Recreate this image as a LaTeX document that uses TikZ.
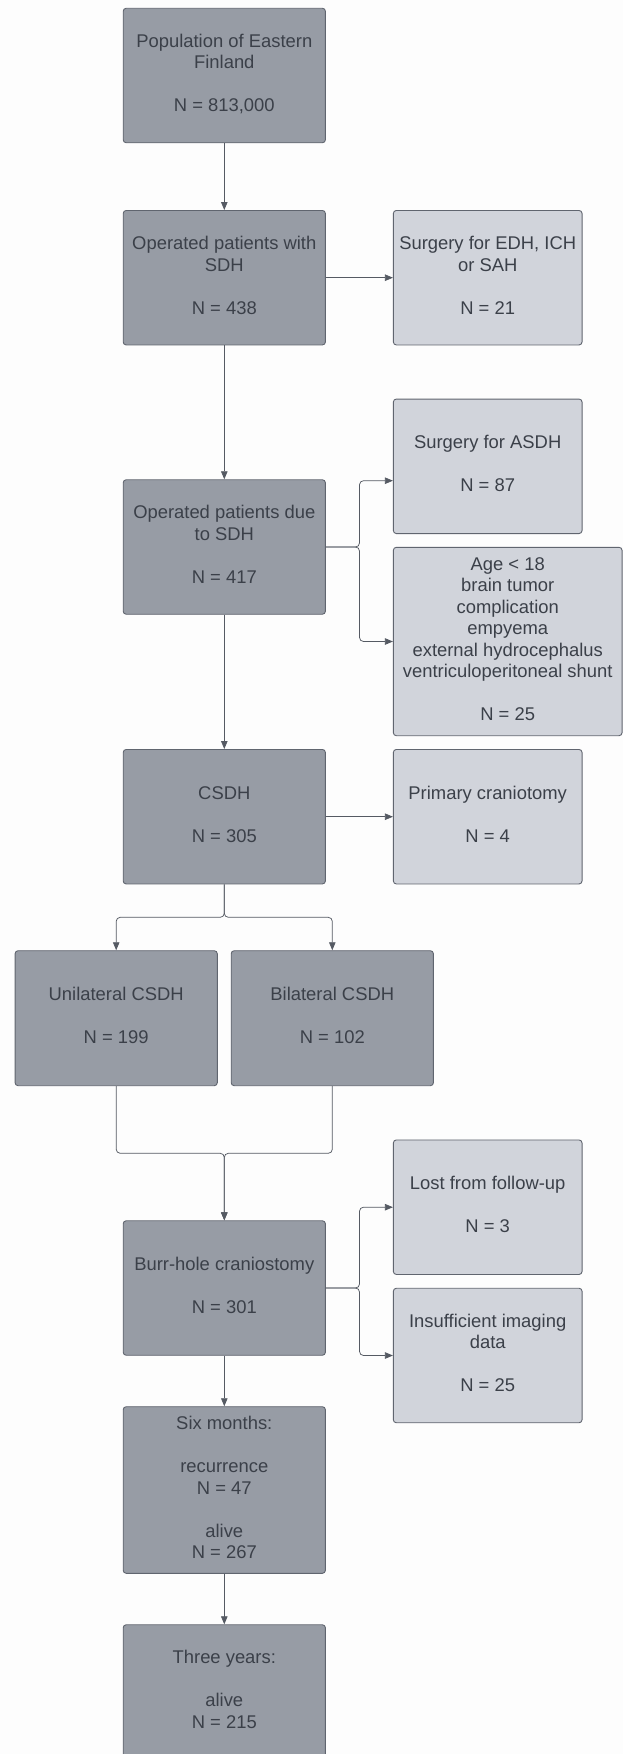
\documentclass[tikz,border=0pt]{standalone}
\usepackage{fontspec}
\setmainfont{Liberation Sans}
\usetikzlibrary{arrows.meta,calc}
\definecolor{darkfill}{HTML}{979CA5}
\definecolor{lightfill}{HTML}{D1D4DB}
\definecolor{boxline}{HTML}{60656F}
\definecolor{txt}{HTML}{3B4049}
\definecolor{conn}{HTML}{555A63}
\definecolor{bg}{HTML}{FDFDFD}
\begin{document}
\begin{tikzpicture}[x=1pt,y=-1pt,
  box/.style={rectangle,rounded corners=3pt,draw=boxline,line width=0.9pt,
    inner sep=0pt,align=center,text=txt,
    font=\fontsize{18.4}{21.5}\selectfont,
    execute at end node={\rule[-5pt]{0pt}{5pt}}},
  dbox/.style={box,fill=darkfill,minimum width=202.2pt,minimum height=134.5pt},
  lbox/.style={box,fill=lightfill,minimum width=188.7pt,minimum height=134.5pt},
  arr/.style={draw=conn,line width=0.75pt,rounded corners=4pt,
    -{Triangle[length=8pt,width=6.5pt]}}]
\useasboundingbox (0,0) rectangle (623,1754);
\fill[bg] (0,0) rectangle (623,1754);
\begin{scope}
\clip (0,0) rectangle (623,1754);
\node[dbox] (b1) at (224.3,75.5) {Population of Eastern\\Finland\\[21.5pt]N = 813,000};
\node[dbox] (b2) at (224.3,277.7) {Operated patients with\\SDH\\[21.5pt]N = 438};
\node[lbox] (r1) at (487.7,277.7) {Surgery for EDH, ICH\\or SAH\\[21.5pt]N = 21};
\node[lbox] (asdh) at (487.7,466.3) {Surgery for ASDH\\[21.5pt]N = 87};
\node[dbox] (b3) at (224.3,547) {Operated patients due\\to SDH\\[21.5pt]N = 417};
\node[lbox,minimum width=228.7pt,minimum height=188.4pt] (age) at (507.7,641.5)
  {Age < 18\\brain tumor\\complication\\empyema\\external hydrocephalus\\ventriculoperitoneal shunt\\[21.5pt]N = 25};
\node[dbox] (csdh) at (224.3,816.7) {CSDH\\[21.5pt]N = 305};
\node[lbox] (prim) at (487.7,816.7) {Primary craniotomy\\[21.5pt]N = 4};
\node[dbox,minimum height=135pt] (uni) at (116.2,1018.2) {Unilateral CSDH\\[21.5pt]N = 199};
\node[dbox,minimum height=135pt] (bil) at (332.3,1018.2) {Bilateral CSDH\\[21.5pt]N = 102};
\node[dbox] (burr) at (224.3,1288) {Burr-hole craniostomy\\[21.5pt]N = 301};
\node[lbox] (lost) at (487.7,1207.2) {Lost from follow-up\\[21.5pt]N = 3};
\node[lbox] (ins) at (487.7,1355.5) {Insufficient imaging\\data\\[21.5pt]N = 25};
\node[dbox,minimum height=166.6pt] (six) at (224.3,1490) {Six months:\\[21.5pt]recurrence\\N = 47\\[21.5pt]alive\\N = 267};
\node[dbox,minimum height=134.5pt] (three) at (224.3,1692) {Three years:\\[21.5pt]alive\\N = 215};
\end{scope}
\coordinate (ja) at (359.5,480.7);
\coordinate (jb) at (359.5,641.5);
\coordinate (jc) at (359.5,1207.2);
\coordinate (jd) at (359.5,1355.5);
\coordinate (su) at (116.2,917.3);
\coordinate (sb) at (332.3,917.3);
\coordinate (m) at (224.3,1153.3);
\draw[arr] (b1) -- (b2);
\draw[arr] (b2) -- (r1);
\draw[arr] (b2) -- (b3);
\draw[arr] (b3.east) -| (ja) -- (asdh.west |- ja);
\draw[arr] (b3.east) -| (jb) -- (age.west);
\draw[arr] (b3) -- (csdh);
\draw[arr] (csdh) -- (prim);
\draw[arr] (csdh.south) |- (su) -- (uni.north);
\draw[arr] (csdh.south) |- (sb) -- (bil.north);
\draw[arr] (uni.south) |- (m) -- (burr.north);
\draw[arr] (bil.south) |- (m) -- (burr.north);
\draw[arr] (burr.east) -| (jc) -- (lost.west);
\draw[arr] (burr.east) -| (jd) -- (ins.west);
\draw[arr] (burr) -- (six);
\draw[arr] (six) -- (three);
\end{tikzpicture}
\end{document}
